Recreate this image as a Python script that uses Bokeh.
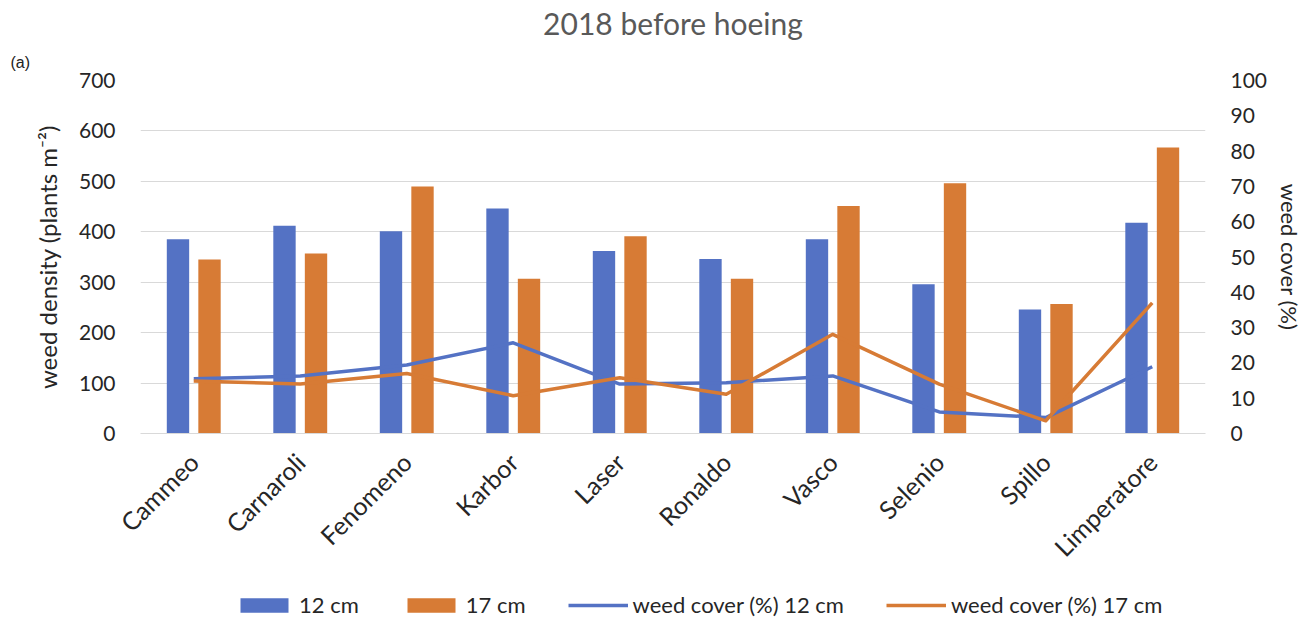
import math
from bokeh.plotting import figure
from bokeh.layouts import column
from bokeh.models import (ColumnDataSource, FactorRange, Range1d, LinearAxis, FixedTicker,
                          Legend, LegendItem, Title)
from bokeh.transform import dodge
from bokeh.embed import file_html
from bokeh.resources import INLINE

categories = ["Cammeo", "Carnaroli", "Fenomeno", "Karbor", "Laser",
              "Ronaldo", "Vasco", "Selenio", "Spillo", "Limperatore"]
density_12 = [385, 412, 401, 446, 362, 346, 385, 296, 246, 418]
density_17 = [345, 357, 490, 307, 391, 307, 451, 496, 257, 567]
cover_12 = [15.5, 16.3, 19.4, 25.7, 14.0, 14.4, 16.3, 6.1, 4.5, 18.9]
cover_17 = [14.9, 14.0, 17.0, 10.7, 15.8, 11.1, 28.1, 14.0, 3.6, 37.0]
left_ticks = [0, 100, 200, 300, 400, 500, 600, 700]
right_ticks = [0, 10, 20, 30, 40, 50, 60, 70, 80, 90, 100]
legend_labels = ["12 cm", "17 cm", "weed cover (%) 12 cm", "weed cover (%) 17 cm"]

BLUE = "#5472C4"
ORANGE = "#D77B35"
FONT = "Lato"
TXT = "#262626"
W, H, FOOT = 1314, 621, 46

src = ColumnDataSource(dict(cat=categories, d12=density_12, d17=density_17,
                            c12=cover_12, c17=cover_17))

p = figure(width=W, height=H - FOOT, x_range=FactorRange(*categories, range_padding=0),
           y_range=Range1d(0, 700), output_backend="svg", toolbar_location=None,
           min_border_left=140, min_border_right=109, min_border_top=80,
           min_border_bottom=H - FOOT - 433)
p.outline_line_color = None
p.background_fill_color = "white"
p.border_fill_color = "white"

p.title.text = "2018 before hoeing"
p.title.align = "center"
p.title.offset = -16
p.title.text_font = FONT
p.title.text_font_size = "30px"
p.title.text_font_style = "normal"
p.title.text_color = "#595959"
p.title.standoff = 2
p.add_layout(Title(text="(a)", align="left", offset=-130, standoff=20,
                   text_font="Liberation Sans", text_font_size="16px",
                   text_font_style="normal", text_color="#222222"), "above")

p.extra_y_ranges = {"cover": Range1d(0, 100)}

p.vbar(x=dodge("cat", -0.148, range=p.x_range), top="d12", width=0.21,
       source=src, fill_color=BLUE, line_color=None)
p.vbar(x=dodge("cat", 0.148, range=p.x_range), top="d17", width=0.21,
       source=src, fill_color=ORANGE, line_color=None)
p.line(x="cat", y="c12", source=src, y_range_name="cover",
       line_color=BLUE, line_width=3.5, line_join="round")
p.line(x="cat", y="c17", source=src, y_range_name="cover",
       line_color=ORANGE, line_width=3.5, line_join="round")

p.xgrid.grid_line_color = None
p.ygrid.grid_line_color = "#D9D9D9"
p.ygrid.grid_line_width = 1.2
p.yaxis.ticker = FixedTicker(ticks=left_ticks)

def style_axis(ax, size):
    ax.axis_line_color = None
    ax.major_tick_line_color = None
    ax.minor_tick_line_color = None
    ax.major_tick_out = 0
    ax.major_tick_in = 0
    ax.minor_tick_out = 0
    ax.minor_tick_in = 0
    ax.major_label_text_font = FONT
    ax.major_label_text_font_size = size
    ax.major_label_text_color = TXT

ya = p.yaxis[0]
style_axis(ya, "21px")
ya.major_label_standoff = 25
ya.axis_label = "weed density (plants m⁻²)"
ya.axis_label_text_font = FONT
ya.axis_label_text_font_size = "24px"
ya.axis_label_text_font_style = "normal"
ya.axis_label_text_color = TXT
ya.axis_label_standoff = 14

ra = LinearAxis(y_range_name="cover", ticker=FixedTicker(ticks=right_ticks))
style_axis(ra, "21px")
ra.major_label_standoff = 25
ra.axis_label = "weed cover (%)"
ra.axis_label_text_font = FONT
ra.axis_label_text_font_size = "22px"
ra.axis_label_text_font_style = "normal"
ra.axis_label_text_color = TXT
ra.axis_label_standoff = 6
p.add_layout(ra, "right")

xa = p.xaxis[0]
style_axis(xa, "25px")
xa.axis_line_color = "#D9D9D9"
xa.axis_line_width = 1.2
xa.major_label_orientation = math.pi / 4
xa.major_label_standoff = 24

# ---- footer strip holding the legend (keys styled like the chart's series) ----
foot = figure(width=W, height=FOOT, x_range=Range1d(0, 1), y_range=Range1d(0, 1),
              x_axis_type=None, y_axis_type=None, output_backend="svg",
              toolbar_location=None, min_border=0)
foot.outline_line_color = None
foot.grid.visible = False
# legend-key renderers: their single point lies outside the strip's ranges, so only
# the legend swatches are visible
key_src = ColumnDataSource(dict(x=[-5.0], y=[-5.0]))
k12 = foot.vbar(x="x", top="y", width=0.1, source=key_src, fill_color=BLUE, line_color=None)
k17 = foot.vbar(x="x", top="y", width=0.1, source=key_src, fill_color=ORANGE, line_color=None)
kl12 = foot.line(x="x", y="y", source=key_src, line_color=BLUE, line_width=3.5)
kl17 = foot.line(x="x", y="y", source=key_src, line_color=ORANGE, line_width=3.5)

legend = Legend(items=[LegendItem(label=legend_labels[0], renderers=[k12]),
                       LegendItem(label=legend_labels[1], renderers=[k17]),
                       LegendItem(label=legend_labels[2], renderers=[kl12]),
                       LegendItem(label=legend_labels[3], renderers=[kl17])],
                orientation="horizontal", location=(94, 3),
                glyph_width=60, glyph_height=18, label_standoff=5, spacing=42,
                padding=0, margin=0, border_line_color=None,
                background_fill_alpha=0,
                label_text_font=FONT, label_text_font_size="22px",
                label_text_color=TXT)
foot.add_layout(legend, "center")

layout = column(p, foot, spacing=0)
open("out.html", "w").write(file_html(layout, INLINE))
